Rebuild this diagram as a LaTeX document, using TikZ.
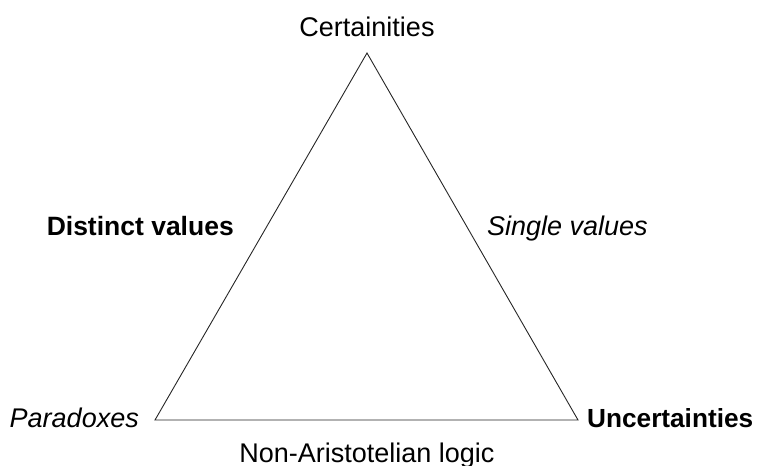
\documentclass[tikz,border=0pt]{standalone}
\usepackage{fontspec}
\setmainfont{Liberation Sans}
\begin{document}
\begin{tikzpicture}[x=1pt,y=-1pt,
  lbl/.style={inner sep=0pt,font=\fontsize{27}{31}\selectfont},
  edge/.style={draw=black!85,line width=0.9pt,line join=miter}]
\useasboundingbox (0,0) rectangle (758,466);
\coordinate (T) at (367,53);
\coordinate (L) at (155,420);
\coordinate (R) at (578,420);
\draw[edge] (T) -- (L) -- (R) -- cycle;
\node[lbl,anchor=base] (cert) at (367,36) {Certainities};
\node[lbl,anchor=base east,font=\fontsize{27}{31}\selectfont\itshape] (para) at (139,427) {Paradoxes};
\node[lbl,anchor=base west,font=\fontsize{26.2}{30}\selectfont\bfseries] (unc) at (587,427) {Uncertainties};
\node[lbl,anchor=base east,font=\fontsize{26.5}{30}\selectfont\bfseries] (dist) at (234,235) {Distinct values};
\node[lbl,anchor=base west,font=\fontsize{27}{31}\selectfont\itshape] (single) at (487,235) {Single values};
\node[lbl,anchor=base] (nonar) at (367,462) {Non-Aristotelian logic};
\end{tikzpicture}
\end{document}
